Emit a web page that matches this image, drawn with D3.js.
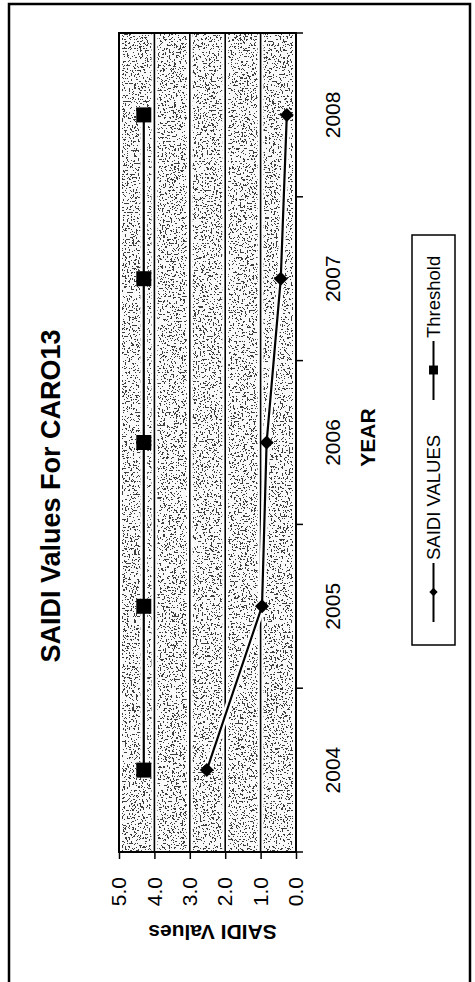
<!DOCTYPE html>
<html>
<head>
<meta charset="utf-8">
<script src="https://cdn.jsdelivr.net/npm/d3@7"></script>
<style>
  html, body { margin: 0; padding: 0; background: #fff; }
  svg { display: block; font-family: "Liberation Sans", Arial, sans-serif; }
</style>
</head>
<body>
<svg id="chart" width="475" height="982"></svg>
<script>
// chart data
const years = ['2004', '2005', '2006', '2007', '2008']
const saidiValues = [2.52, 0.96, 0.83, 0.43, 0.26]
const thresholdValues = [4.3, 4.3, 4.3, 4.3, 4.3]
const yTicks = [0, 1, 2, 3, 4, 5]
const seriesNames = ['SAIDI VALUES', 'Threshold']

// the page shows the chart turned a quarter turn to the left,
// so everything is laid out in a 982 x 475 frame and rotated
const pageH = 982

const plot = { left: 130, right: 949, top: 119, bottom: 296 }

const svg = d3.select('#chart')

// speckled fill of the plot area
const defs = svg.append('defs')
const filter = defs.append('filter')
  .attr('id', 'stipple')
  .attr('x', 0).attr('y', 0).attr('width', '100%').attr('height', '100%')
filter.append('feTurbulence')
  .attr('type', 'fractalNoise')
  .attr('baseFrequency', 0.55)
  .attr('numOctaves', 2)
  .attr('seed', 4)
  .attr('result', 'noise')
filter.append('feColorMatrix')
  .attr('in', 'noise')
  .attr('type', 'matrix')
  .attr('values', '1 0 0 0 0  1 0 0 0 0  1 0 0 0 0  0 0 0 0 1')
  .attr('result', 'gray')
const transfer = filter.append('feComponentTransfer').attr('in', 'gray')
for (const ch of ['feFuncR', 'feFuncG', 'feFuncB']) {
  transfer.append(ch).attr('type', 'discrete').attr('tableValues', '0.05 0.05 0.05 0.05 0.95 0.95 0.95 0.95 0.95 0.95')
}

const g = svg.append('g')
  .attr('transform', `translate(0, ${pageH}) rotate(-90)`)

// outer frame
g.append('rect')
  .attr('x', -10)
  .attr('y', 9)
  .attr('width', 988)
  .attr('height', 461)
  .attr('fill', 'none')
  .attr('stroke', '#000')
  .attr('stroke-width', 2.5)

const x = d3.scaleBand().domain(years).range([plot.left, plot.right])
const y = d3.scaleLinear().domain([0, 5]).range([plot.bottom, plot.top])

// plot background
g.append('rect')
  .attr('x', plot.left)
  .attr('y', plot.top)
  .attr('width', plot.right - plot.left)
  .attr('height', plot.bottom - plot.top)
  .attr('fill', '#999')
  .attr('filter', 'url(#stipple)')

// gridlines with their white margins
const grid = g.append('g').attr('class', 'grid')
grid.selectAll('line.halo')
  .data(yTicks)
  .join('line')
  .attr('class', 'halo')
  .attr('x1', plot.left).attr('x2', plot.right)
  .attr('y1', (d) => y(d)).attr('y2', (d) => y(d))
  .attr('stroke', '#fff')
  .attr('stroke-width', 6)
grid.selectAll('line.rule')
  .data(yTicks)
  .join('line')
  .attr('class', 'rule')
  .attr('x1', plot.left).attr('x2', plot.right)
  .attr('y1', (d) => y(d)).attr('y2', (d) => y(d))
  .attr('stroke', '#000')
  .attr('stroke-width', 1.6)

// plot border
g.append('rect')
  .attr('x', plot.left)
  .attr('y', plot.top)
  .attr('width', plot.right - plot.left)
  .attr('height', plot.bottom - plot.top)
  .attr('fill', 'none')
  .attr('stroke', '#000')
  .attr('stroke-width', 2)

// y axis
const axisY = d3.axisLeft(y)
  .tickValues(yTicks)
  .tickFormat(d3.format('.1f'))
  .tickSizeInner(7)
  .tickSizeOuter(0)
  .tickPadding(18)
const gy = g.append('g')
  .attr('transform', `translate(${plot.left}, 0)`)
  .call(axisY)
gy.select('.domain').remove()
gy.selectAll('line').attr('stroke', '#000').attr('stroke-width', 1.5)
gy.selectAll('text')
  .attr('fill', '#000')
  .style('font-size', '21px')

// x axis: labels in the middle of each band, ticks between bands
const axisX = d3.axisBottom(x).tickSize(0).tickPadding(29)
const gx = g.append('g')
  .attr('transform', `translate(0, ${plot.bottom})`)
  .call(axisX)
gx.select('.domain').remove()
gx.selectAll('text')
  .attr('fill', '#000')
  .style('font-size', '21px')
gx.selectAll('line.between')
  .data(d3.range(years.length + 1))
  .join('line')
  .attr('class', 'between')
  .attr('x1', (i) => x.range()[0] + i * x.step())
  .attr('x2', (i) => x.range()[0] + i * x.step())
  .attr('y1', 0)
  .attr('y2', 7)
  .attr('stroke', '#000')
  .attr('stroke-width', 1.5)

// titles
g.append('text')
  .attr('x', 486)
  .attr('y', 60)
  .attr('text-anchor', 'middle')
  .style('font-size', '27px')
  .style('font-weight', 'bold')
  .text('SAIDI Values For CARO13')

g.append('text')
  .attr('x', (plot.left + plot.right) / 2 + 5)
  .attr('y', 375)
  .attr('text-anchor', 'middle')
  .style('font-size', '21px')
  .style('font-weight', 'bold')
  .text('YEAR')

g.append('text')
  .attr('transform', `translate(57, ${(plot.top + plot.bottom) / 2 + 5}) rotate(-90)`)
  .attr('text-anchor', 'middle')
  .style('font-size', '21px')
  .style('font-weight', 'bold')
  .text('SAIDI Values')

// series
const diamond = d3.symbolDiamond2 || d3.symbolDiamond
const line = d3.line()
  .x((d, i) => x(years[i]) + x.bandwidth() / 2)
  .y((d) => y(d))

const series = [
  { name: seriesNames[0], values: saidiValues, symbol: diamond, size: 125 },
  { name: seriesNames[1], values: thresholdValues, symbol: d3.symbolSquare, size: 225 }
]

for (const s of series) {
  g.append('path')
    .attr('d', line(s.values))
    .attr('fill', 'none')
    .attr('stroke', '#fff')
    .attr('stroke-width', 7)
  g.append('path')
    .attr('d', line(s.values))
    .attr('fill', 'none')
    .attr('stroke', '#000')
    .attr('stroke-width', 2.2)
  g.selectAll(null)
    .data(s.values)
    .join('path')
    .attr('transform', (d, i) => `translate(${x(years[i]) + x.bandwidth() / 2}, ${y(d)})`)
    .attr('d', d3.symbol(s.symbol, s.size))
    .attr('fill', '#000')
}

// legend
const legend = g.append('g').attr('class', 'legend')
legend.append('rect')
  .attr('x', 337)
  .attr('y', 412)
  .attr('width', 410)
  .attr('height', 43)
  .attr('fill', '#fff')
  .attr('stroke', '#000')
  .attr('stroke-width', 1.5)

const legendItems = [
  { x: 360, symbol: diamond, size: 45, text: seriesNames[0] },
  { x: 582, symbol: d3.symbolSquare, size: 80, text: seriesNames[1] }
]
const ly = 433.5
for (const item of legendItems) {
  legend.append('line')
    .attr('x1', item.x).attr('x2', item.x + 59)
    .attr('y1', ly).attr('y2', ly)
    .attr('stroke', '#000')
    .attr('stroke-width', 2)
  legend.append('path')
    .attr('transform', `translate(${item.x + 30}, ${ly})`)
    .attr('d', d3.symbol(item.symbol, item.size))
    .attr('fill', '#000')
  legend.append('text')
    .attr('x', item.x + 62)
    .attr('y', ly + 6.5)
    .style('font-size', '18.5px')
    .text(item.text)
}
</script>
</body>
</html>
